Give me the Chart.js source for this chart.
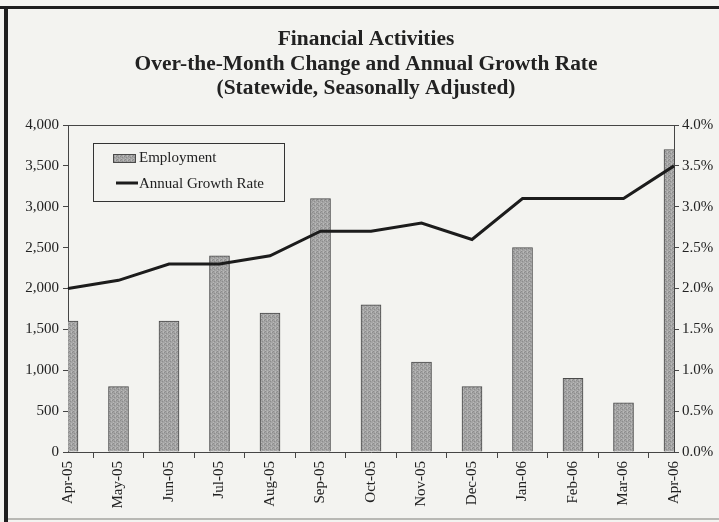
<!DOCTYPE html>
<html>
<head>
<meta charset="utf-8">
<script src="https://cdn.jsdelivr.net/npm/chart.js@4.4.0/dist/chart.umd.min.js"></script>
<style>
  html, body { margin: 0; padding: 0; background: #f3f3f0; }
  #wrap { position: relative; width: 719px; height: 522px; }
</style>
</head>
<body>
<div id="wrap"><canvas id="chart" width="719" height="522"></canvas></div>
<script>
// data
const months = ['Apr-05', 'May-05', 'Jun-05', 'Jul-05', 'Aug-05', 'Sep-05', 'Oct-05',
                'Nov-05', 'Dec-05', 'Jan-06', 'Feb-06', 'Mar-06', 'Apr-06']
const employment = [1600, 800, 1600, 2400, 1700, 3100, 1800, 1100, 800, 2500, 900, 600, 3700]
const growthRate = [2.0, 2.1, 2.3, 2.3, 2.4, 2.7, 2.7, 2.8, 2.6, 3.1, 3.1, 3.1, 3.5]
const leftTicks = [0, 500, 1000, 1500, 2000, 2500, 3000, 3500, 4000]
const rightTicks = [0, 0.5, 1.0, 1.5, 2.0, 2.5, 3.0, 3.5, 4.0]
const titleLines = ['Financial Activities',
                    'Over-the-Month Change and Annual Growth Rate',
                    '(Statewide, Seasonally Adjusted)']

const SERIF = '"Liberation Serif", "Times New Roman", serif'
const INK = '#222'
const AXIS = '#454545'

// speckled grey fill like the printed bars
function makeTexture() {
    const c = document.createElement('canvas')
    c.width = 4; c.height = 4
    const g = c.getContext('2d')
    g.fillStyle = '#a3a3a3'
    g.fillRect(0, 0, 4, 4)
    g.fillStyle = '#8c8c8c'
    g.fillRect(0, 0, 1, 1); g.fillRect(2, 1, 1, 1); g.fillRect(1, 3, 1, 1)
    g.fillStyle = '#b8b8b8'
    g.fillRect(3, 0, 1, 1); g.fillRect(1, 2, 1, 1); g.fillRect(3, 3, 1, 1)
    return g.createPattern(c, 'repeat')
}
const barFill = makeTexture()

const decor = {
    id: 'decor',
    beforeDraw(chart) {
        const ctx = chart.ctx
        ctx.save()
        // page frame
        ctx.fillStyle = '#1e1e1e'
        ctx.fillRect(0, 6, 719, 3)
        ctx.fillRect(4, 6, 4, 516)
        ctx.fillStyle = '#b8b8b4'
        ctx.fillRect(8, 518, 711, 2)
        ctx.restore()
    },
    afterDatasetsDraw(chart) {
        const ctx = chart.ctx
        const a = chart.chartArea
        ctx.save()
        ctx.strokeStyle = AXIS
        ctx.lineWidth = 1
        ctx.beginPath()
        ctx.moveTo(a.left, a.top + 0.5)
        ctx.lineTo(a.right, a.top + 0.5)
        ctx.stroke()
        ctx.restore()
    },
    afterDraw(chart) {
        const ctx = chart.ctx
        const barSet = chart.data.datasets.find(d => d.type === 'bar')
        const lineSet = chart.data.datasets.find(d => d.type === 'line')
        ctx.save()
        // title
        ctx.fillStyle = INK
        ctx.textAlign = 'center'
        ctx.textBaseline = 'alphabetic'
        ctx.font = 'bold 21.4px ' + SERIF
        const base = [45, 70, 94]
        titleLines.forEach((t, i) => ctx.fillText(t, 366, base[i]))

        // legend box
        ctx.strokeStyle = '#333'
        ctx.lineWidth = 1
        ctx.fillStyle = '#f3f3f0'
        ctx.fillRect(93.5, 143.5, 191, 58)
        ctx.strokeRect(93.5, 143.5, 191, 58)
        ctx.fillStyle = barFill
        ctx.fillRect(113, 154, 23, 9)
        ctx.strokeStyle = '#4a4a4a'
        ctx.strokeRect(113.5, 154.5, 22, 8)
        ctx.strokeStyle = '#1c1c1c'
        ctx.lineWidth = 3
        ctx.beginPath()
        ctx.moveTo(116, 183)
        ctx.lineTo(138, 183)
        ctx.stroke()
        ctx.fillStyle = INK
        ctx.textAlign = 'left'
        ctx.textBaseline = 'middle'
        ctx.font = '15px ' + SERIF
        ctx.fillText(barSet.label, 139, 158)
        ctx.fillText(lineSet.label, 139, 184)
        ctx.restore()
    }
}

new Chart(document.getElementById('chart'), {
    data: {
        labels: months,
        datasets: [
            {
                type: 'line',
                label: 'Annual Growth Rate',
                data: growthRate,
                yAxisID: 'y1',
                borderColor: '#1c1c1c',
                borderWidth: 3,
                pointRadius: 0,
                tension: 0,
                order: 0
            },
            {
                type: 'bar',
                label: 'Employment',
                data: employment,
                yAxisID: 'y',
                backgroundColor: barFill,
                borderColor: '#4a4a4a',
                borderWidth: 1,
                barThickness: 20,
                clip: 0,
                order: 1
            }
        ]
    },
    options: {
        responsive: false,
        animation: false,
        layout: { padding: { top: 125, left: 0, right: 0, bottom: 0 } },
        plugins: {
            legend: { display: false },
            tooltip: { enabled: false }
        },
        scales: {
            x: {
                type: 'category',
                offset: false,
                grid: { drawOnChartArea: false, color: AXIS, tickLength: 6 },
                border: { color: AXIS },
                ticks: {
                    color: INK,
                    font: { family: SERIF, size: 15 },
                    minRotation: 90,
                    maxRotation: 90,
                    padding: 3,
                    autoSkip: false
                },
                afterFit(s) { s.height = 70 }
            },
            y: {
                position: 'left',
                min: 0,
                max: 4000,
                grid: { drawOnChartArea: false, color: AXIS, tickLength: 5 },
                border: { color: AXIS },
                afterBuildTicks(s) { s.ticks = leftTicks.map(v => ({ value: v })) },
                ticks: {
                    color: INK,
                    font: { family: SERIF, size: 15 },
                    padding: 4,
                    callback: v => v.toLocaleString('en-US')
                },
                afterFit(s) { s.width = 68 }
            },
            y1: {
                position: 'right',
                min: 0,
                max: 4,
                grid: { drawOnChartArea: false, color: AXIS, tickLength: 5 },
                border: { color: AXIS },
                afterBuildTicks(s) { s.ticks = rightTicks.map(v => ({ value: v })) },
                ticks: {
                    color: INK,
                    font: { family: SERIF, size: 15 },
                    padding: 3,
                    callback: v => v.toFixed(1) + '%'
                },
                afterFit(s) { s.width = 45 }
            }
        }
    },
    plugins: [decor]
})
</script>
</body>
</html>
